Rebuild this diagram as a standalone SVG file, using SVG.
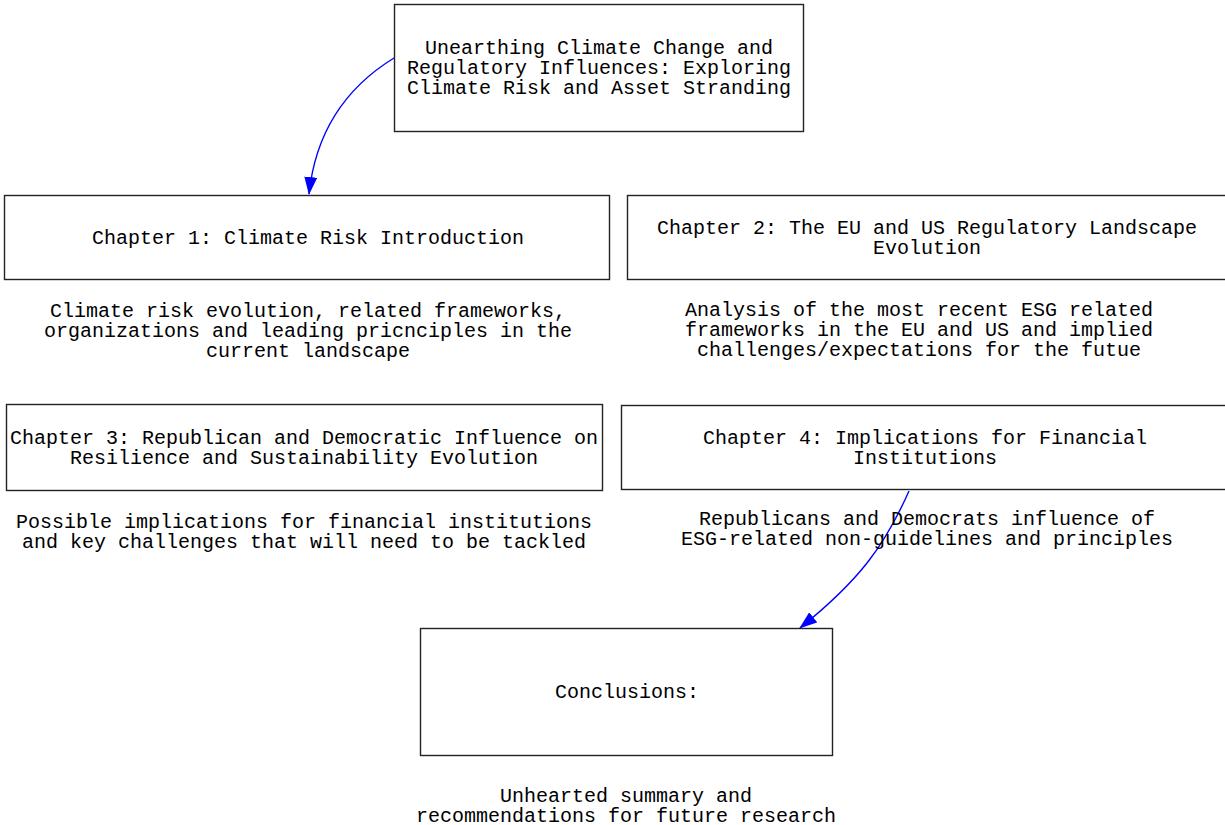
<svg xmlns="http://www.w3.org/2000/svg" width="1225" height="825" viewBox="0 0 1225 825">
<style>
rect.box{fill:#fff;stroke:#222;stroke-width:1.4}
text{font-family:"Liberation Mono","Courier New",monospace;font-size:20px;fill:#000;text-anchor:middle}
path.edge{fill:none;stroke:#0000ff;stroke-width:1.4}
</style>
<defs>
<marker id="ah" markerWidth="18" markerHeight="13" refX="17" refY="6.5" orient="auto" markerUnits="userSpaceOnUse">
<path d="M0,0 L18,6.5 L0,13 Z" fill="#0000ff"/>
</marker>
</defs>
<rect width="1225" height="825" fill="#fff"/>
<g id="connectors">
<path class="edge" d="M394,58 C350,85 316,128 309,194" marker-end="url(#ah)"/>
<path class="edge" d="M909,491 C885,545 860,580 800,628" marker-end="url(#ah)"/>
</g>
<g id="root">
<rect class="box" x="394.5" y="4.5" width="409" height="127"/>
<text x="599" y="54">Unearthing Climate Change and<tspan x="599" dy="20">Regulatory Influences: Exploring</tspan><tspan x="599" dy="20">Climate Risk and Asset Stranding</tspan></text>
</g>
<g id="ch1">
<rect class="box" x="4.5" y="195.5" width="605" height="84"/>
<text x="308" y="244">Chapter 1: Climate Risk Introduction</text>
<text x="308" y="317">Climate risk evolution, related frameworks,<tspan x="308" dy="20">organizations and leading pricnciples in the</tspan><tspan x="308" dy="20">current landscape</tspan></text>
</g>
<g id="ch2">
<rect class="box" x="627.5" y="195.5" width="610" height="84"/>
<text x="927" y="234">Chapter 2: The EU and US Regulatory Landscape<tspan x="927" dy="20">Evolution</tspan></text>
<text x="919" y="316">Analysis of the most recent ESG related<tspan x="919" dy="20">frameworks in the EU and US and implied</tspan><tspan x="919" dy="20">challenges/expectations for the futue</tspan></text>
</g>
<g id="ch3">
<rect class="box" x="6.5" y="404.5" width="596" height="86"/>
<text x="304" y="444">Chapter 3: Republican and Democratic Influence on<tspan x="304" dy="20">Resilience and Sustainability Evolution</tspan></text>
<text x="304" y="528">Possible implications for financial institutions<tspan x="304" dy="20">and key challenges that will need to be tackled</tspan></text>
</g>
<g id="ch4">
<rect class="box" x="621.5" y="405.5" width="615" height="84"/>
<text x="925" y="444">Chapter 4: Implications for Financial<tspan x="925" dy="20">Institutions</tspan></text>
<text x="927" y="525">Republicans and Democrats influence of<tspan x="927" dy="20">ESG-related non-guidelines and principles</tspan></text>
</g>
<g id="conclusions">
<rect class="box" x="420.5" y="628.5" width="412" height="127"/>
<text x="627" y="698">Conclusions:</text>
<text x="626" y="802">Unhearted summary and<tspan x="626" dy="20">recommendations for future research</tspan></text>
</g>
</svg>
